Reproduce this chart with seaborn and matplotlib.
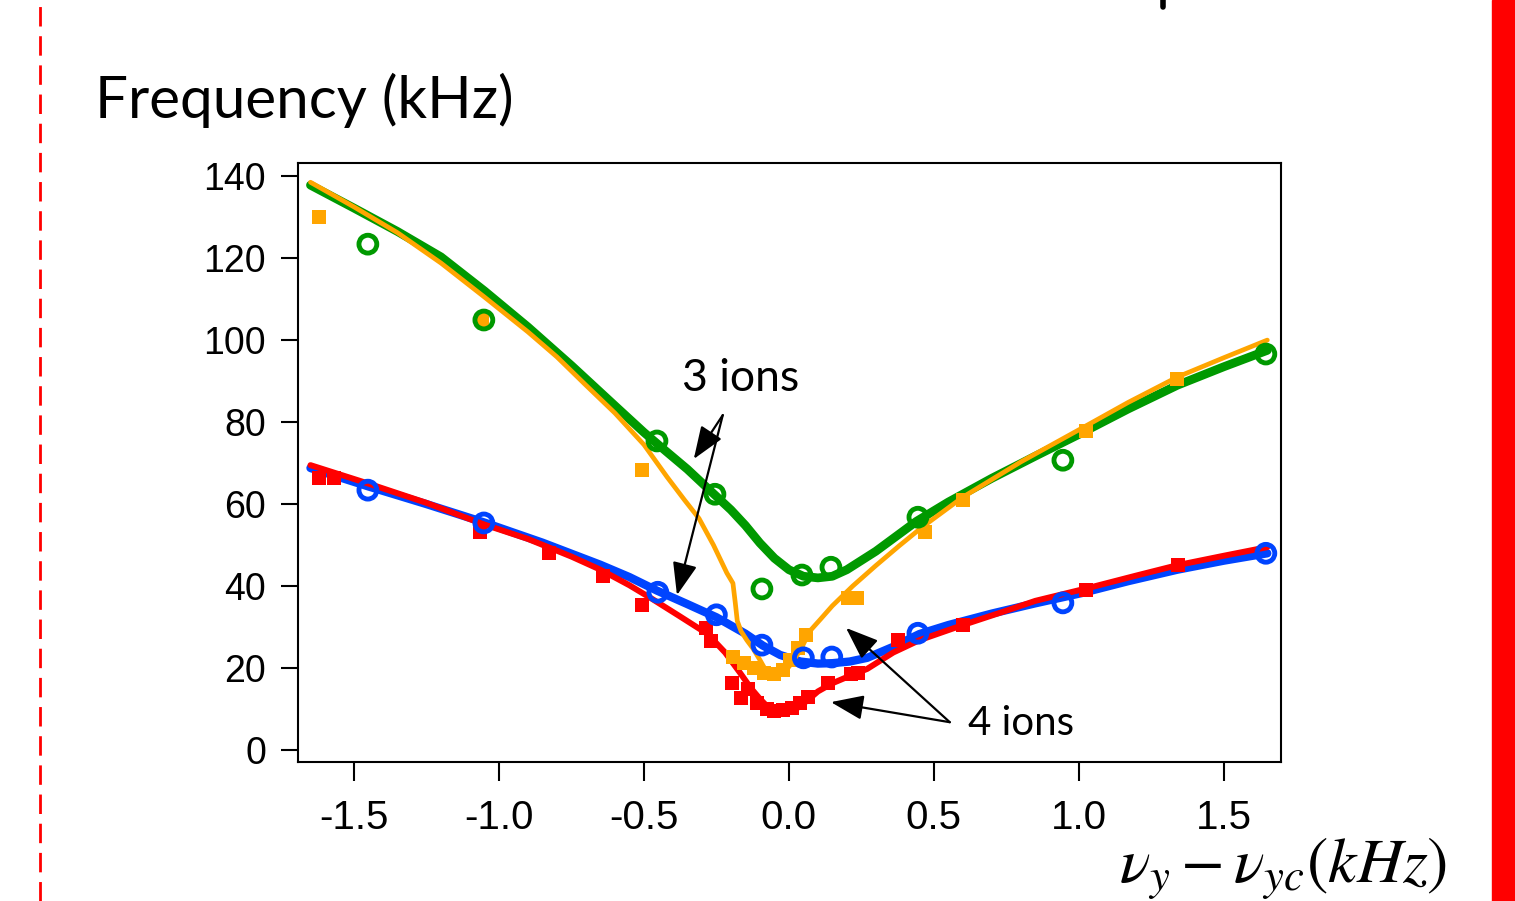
import matplotlib
matplotlib.use("Agg")
import matplotlib.pyplot as plt
import seaborn as sns
from matplotlib.lines import Line2D
from matplotlib.patches import Rectangle

# fitted curves
green_line_x = [-1.65, -1.5, -1.35, -1.2, -1.05, -0.9, -0.75, -0.6, -0.5, -0.434, -0.35, -0.27, -0.2, -0.15,
                -0.1, -0.05, 0.0, 0.05, 0.1, 0.15, 0.2, 0.3, 0.44, 0.55, 0.7, 0.85, 1.0, 1.17, 1.34, 1.5, 1.65]
green_line_y = [137.8, 132.2, 126.5, 120.3, 112.0, 103.2, 93.8, 84.0, 77.5, 73.5, 68.5, 63.2, 58.6, 54.8,
                50.5, 46.8, 44.0, 42.4, 42.0, 42.4, 44.0, 48.5, 55.8, 60.5, 66.3, 71.7, 77.0, 83.2, 89.0, 93.5, 97.5]

orange_line_x = [-1.65, -1.5, -1.35, -1.2, -1.05, -0.9, -0.8, -0.7, -0.6, -0.5, -0.42, -0.36, -0.31, -0.26,
                 -0.214, -0.193, -0.185, -0.178, -0.165, -0.145, -0.124, -0.1, -0.08, -0.06, -0.03, 0.0,
                 0.04, 0.072, 0.11, 0.15, 0.22, 0.3, 0.38, 0.46, 0.6, 0.8, 1.01, 1.17, 1.34, 1.5, 1.65]
orange_line_y = [138.5, 132.5, 126.2, 118.8, 110.5, 102.0, 95.9, 89.0, 82.2, 74.5, 66.6, 61.0, 56.5, 50.0,
                 43.2, 40.7, 36.0, 31.5, 29.0, 26.8, 24.8, 22.0, 19.5, 18.5, 18.5, 20.3,
                 24.4, 29.0, 32.0, 35.2, 40.0, 45.0, 49.8, 54.4, 61.7, 70.3, 78.5, 84.8, 91.0, 95.7, 100.0]

red_line_x = [-1.65, -1.45, -1.25, -1.05, -0.9, -0.75, -0.65, -0.55, -0.47, -0.38, -0.28, -0.22, -0.17, -0.13,
              -0.1, -0.07, -0.04, -0.007, 0.03, 0.062, 0.1, 0.15, 0.2, 0.27, 0.36, 0.45, 0.6, 0.75, 0.85,
              1.03, 1.2, 1.34, 1.5, 1.65]
red_line_y = [69.5, 65.0, 60.3, 55.0, 51.5, 47.2, 44.0, 40.2, 36.8, 32.8, 28.3, 23.8, 19.0, 15.0,
              12.5, 10.3, 9.3, 9.0, 10.3, 12.0, 14.3, 16.3, 17.8, 19.8, 23.8, 26.8, 30.5, 34.0, 36.4,
              39.5, 42.6, 45.1, 47.4, 49.5]

blue_line_x = [-1.65, -1.45, -1.25, -1.05, -0.85, -0.65, -0.55, -0.455, -0.35, -0.25, -0.15, -0.09, -0.03,
               0.04, 0.1, 0.15, 0.21, 0.27, 0.36, 0.45, 0.55, 0.7, 0.85, 1.01, 1.17, 1.34, 1.5, 1.65]
blue_line_y = [68.8, 64.3, 60.0, 55.5, 50.6, 45.2, 42.2, 38.9, 35.6, 32.4, 28.4, 25.5, 23.2,
               21.6, 21.1, 21.2, 21.6, 22.5, 25.2, 28.3, 30.5, 33.3, 35.8, 38.3, 41.2, 44.0, 46.2, 48.0]

# measured points
green_pts_x = [-1.452, -1.052, -0.455, -0.255, -0.093, 0.045, 0.145, 0.445, 0.945, 1.645]
green_pts_y = [123.4, 104.9, 75.4, 62.4, 39.3, 42.7, 44.6, 56.8, 70.7, 96.6]

blue_pts_x = [-1.452, -1.052, -0.452, -0.25, -0.093, 0.05, 0.148, 0.445, 0.945, 1.645]
blue_pts_y = [63.4, 55.4, 38.5, 33.0, 25.6, 22.5, 22.7, 28.5, 35.9, 48.0]

orange_pts_x = [-1.62, -1.06, -0.507, -0.193, -0.155, -0.12, -0.085, -0.05, -0.02, 0.005, 0.03, 0.06,
                0.205, 0.235, 0.47, 0.6, 1.025, 1.34]
orange_pts_y = [130.0, 105.0, 68.3, 22.7, 21.3, 20.0, 18.8, 18.6, 19.5, 22.0, 25.0, 28.0,
                37.0, 37.2, 53.2, 61.0, 77.8, 90.5]

red_pts_x = [-1.621, -1.569, -1.066, -0.828, -0.641, -0.507, -0.285, -0.27, -0.197, -0.165, -0.14,
             -0.11, -0.075, -0.05, -0.02, 0.01, 0.04, 0.065, 0.135, 0.215, 0.24, 0.376, 0.6, 1.024, 1.341]
red_pts_y = [66.3, 66.3, 53.2, 48.0, 42.4, 35.4, 29.8, 26.5, 16.3, 12.8, 14.8,
             11.5, 10.0, 9.5, 9.8, 10.3, 11.5, 13.0, 16.3, 18.5, 18.8, 26.8, 30.5, 39.0, 45.1]

x_ticks = [-1.5, -1.0, -0.5, 0.0, 0.5, 1.0, 1.5]
y_ticks = [0, 20, 40, 60, 80, 100, 120, 140]

GREEN = "#009900"
ORANGE = "#ffa500"
RED = "#ff0000"
BLUE = "#0044ff"

sns.set_theme(style="white")
plt.rcParams["font.family"] = ["Liberation Sans", "DejaVu Sans"]
plt.rcParams["mathtext.fontset"] = "stix"
plt.rcParams["text.color"] = "black"

fig = plt.figure(figsize=(15.15, 9.01), dpi=100)
ax = fig.add_axes([0.1967, 0.1543, 0.6488, 0.6648])

sns.lineplot(x=blue_line_x, y=blue_line_y, color=BLUE, lw=6, ax=ax, estimator=None, zorder=2)
sns.lineplot(x=red_line_x, y=red_line_y, color=RED, lw=4.3, ax=ax, estimator=None, zorder=3)
sns.lineplot(x=green_line_x, y=green_line_y, color=GREEN, lw=6.3, ax=ax, estimator=None, zorder=2)
sns.lineplot(x=orange_line_x, y=orange_line_y, color=ORANGE, lw=3.4, ax=ax, estimator=None, zorder=3)

sns.scatterplot(x=orange_pts_x, y=orange_pts_y, marker="s", s=110, color=ORANGE, linewidth=0, ax=ax, zorder=4)
sns.scatterplot(x=red_pts_x, y=red_pts_y, marker="s", s=110, color=RED, linewidth=0, ax=ax, zorder=4)
sns.scatterplot(x=green_pts_x, y=green_pts_y, marker="o", s=165, facecolor="none", edgecolor=GREEN,
                linewidth=3.5, ax=ax, zorder=5)
sns.scatterplot(x=blue_pts_x, y=blue_pts_y, marker="o", s=165, facecolor="none", edgecolor=BLUE,
                linewidth=3.5, ax=ax, zorder=5)

ax.set_xlim(-1.693, 1.697)
ax.set_ylim(-2.9, 143.2)
ax.set_xticks(x_ticks)
ax.set_xticklabels([f"{v:.1f}" for v in x_ticks])
ax.set_yticks(y_ticks)
ax.tick_params(axis="x", direction="out", length=14, width=1.5, pad=13, labelsize=29, colors="black")
ax.tick_params(axis="y", direction="out", length=12, width=1.5, pad=11, labelsize=27, colors="black")
ax.tick_params(bottom=True, left=True)
for sp in ax.spines.values():
    sp.set_color("black")
    sp.set_linewidth(1.5)
ax.set_xlabel("")
ax.set_ylabel("")

# annotations
arrow = dict(arrowstyle="-|>,head_length=1.0,head_width=0.38", color="black", lw=1.6,
             shrinkA=0, shrinkB=0, mutation_scale=20)
ax.annotate("", xy=(-0.328, 71.0), xytext=(-0.228, 81.7), arrowprops=arrow, zorder=6)
ax.annotate("", xy=(-0.386, 37.8), xytext=(-0.228, 81.7), arrowprops=arrow, zorder=6)
ax.annotate("", xy=(0.197, 29.8), xytext=(0.555, 6.8), arrowprops=arrow, zorder=6)
ax.annotate("", xy=(0.145, 11.7), xytext=(0.555, 6.8), arrowprops=arrow, zorder=6)
ax.text(-0.165, 90.7, "3 ions", ha="center", va="center", fontsize=32, color="black",
        family=["Lato", "DejaVu Sans"])
ax.text(0.80, 6.6, "4 ions", ha="center", va="center", fontsize=29, color="black",
        family=["Lato", "DejaVu Sans"])

fig.text(0.0627, 0.869, "Frequency (kHz)", ha="left", va="baseline", fontsize=42, color="black",
         family=["Lato", "DejaVu Sans"])
fig.text(0.955, 0.02, r"$\nu_y - \nu_{yc}(kHz)$", ha="right", va="baseline", fontsize=46, color="black")

# slide decorations
fig.patches.append(Rectangle((0.9848, 0), 0.0152, 1, transform=fig.transFigure, color=RED, zorder=0))
fig.lines.append(Line2D([0.0264, 0.0264], [0, 1], transform=fig.transFigure, color=RED, lw=2,
                        linestyle=(0, (7, 3.5))))
fig.lines.append(Line2D([0.7677, 0.7677], [0.992, 1.0], transform=fig.transFigure, color="black", lw=4))

fig.savefig("out.png", dpi=100)
